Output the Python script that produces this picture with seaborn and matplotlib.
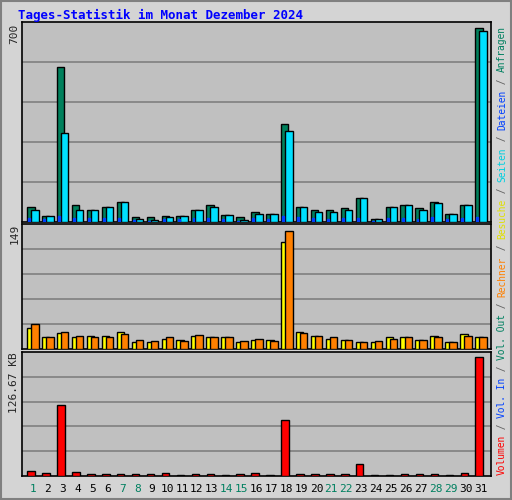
import numpy as np
import matplotlib
matplotlib.use("Agg")
import matplotlib.pyplot as plt
import seaborn as sns

days = list(range(1, 32))
weekend = [1, 7, 8, 14, 15, 21, 22, 28, 29]
anfragen = [52,23,551,62,41,52,70,16,19,23,23,41,59,26,19,37,30,347,52,41,41,48,84,12,52,62,48,70,30,62,689]
dateien = [41,23,318,44,41,52,70,12,8,19,23,41,55,26,8,30,30,325,52,37,34,41,84,12,52,62,41,66,30,62,678]
seiten = [15,12,22,15,14,14,15,6,5,10,10,14,15,9,5,13,12,20,16,14,12,13,15,5,14,15,12,16,10,14,18]
besuche = [26,14,20,15,16,16,21,9,8,12,11,16,15,14,8,11,11,130,21,16,12,11,9,9,15,15,11,16,9,18,14]
rechner = [30,15,21,16,15,14,18,11,10,15,10,17,14,15,10,12,10,144,20,16,14,11,9,10,12,15,11,15,8,16,15]
volumen = [5.5,3.4,73,4.4,2.4,2.4,2.4,2.4,2.4,3.4,1.4,2.4,2.4,1.4,2.4,3.4,1.4,58,2.4,2.4,2.4,2.4,12.7,1.4,1.4,2.4,2.4,2.4,1.4,3.4,122.5]

sns.set_style("white")
plt.rcParams['font.family'] = ['DejaVu Sans Mono']
BG = "#C0C0C0"
fig = plt.figure(figsize=(5.12, 5.0), dpi=100, facecolor="#D4D4D4")
fig.patches.append(plt.Rectangle((0.002, 0.002), 0.996, 0.996, transform=fig.transFigure,
                                 fill=False, edgecolor="#808080", lw=1.5))
d = np.array(days, dtype=float)

def mkax(rect, ymax):
    ax = fig.add_axes(rect)
    ax.set_facecolor(BG)
    ax.set_xlim(0.29, 31.69)
    ax.set_ylim(0, ymax)
    for k in range(1, 5):
        ax.axhline(ymax * k / 5, color="#808080", lw=1.2, zorder=0)
    ax.set_xticks([]); ax.set_yticks([])
    ax.set_xlabel(""); ax.set_ylabel("")
    for s in ax.spines.values():
        s.set_color("black"); s.set_linewidth(1.2)
    return ax

def bars(ax, x, y, color, width, ec="black"):
    sns.barplot(x=x, y=y, native_scale=True, width=width, color=color,
                edgecolor=ec, linewidth=1, saturation=1, ax=ax, zorder=3)

ax1 = mkax([0.043, 0.556, 0.916, 0.40], 711)
bars(ax1, d - 0.12, anfragen, "#00805C", 0.5)
bars(ax1, d + 0.15, dateien, "#00E0FF", 0.5)
bars(ax1, d - 0.23, seiten, "#0040FF", 0.13, ec="#0040FF")
ax2 = mkax([0.043, 0.302, 0.916, 0.25], 152)
bars(ax2, d - 0.12, besuche, "#FFFF00", 0.5)
bars(ax2, d + 0.15, rechner, "#FF8000", 0.5)
ax3 = mkax([0.043, 0.048, 0.916, 0.248], 128)
bars(ax3, d - 0.1, volumen, "#FF0000", 0.5)
for ax in (ax1, ax2, ax3):
    ax.set_xlim(0.29, 31.69); ax.set_xticks([]); ax.set_xlabel(""); ax.set_ylabel("")

fig.text(0.035, 0.97, "Tages-Statistik im Monat Dezember 2024", color="#0000FF",
         fontsize=9, fontweight="bold", ha="left", va="center", family="DejaVu Sans Mono")
fig.text(0.028, 0.953, "700", rotation=90, fontsize=8, ha="center", va="top")
fig.text(0.028, 0.552, "149", rotation=90, fontsize=8, ha="center", va="top")
fig.text(0.028, 0.296, "126.67 KB", rotation=90, fontsize=8, ha="center", va="top")

for i in days:
    xf = 0.043 + 0.916 * (i - 0.29) / 31.4
    fig.text(xf, 0.022, str(i), ha="center", va="center", fontsize=8,
             color="#008060" if i in weekend else "black")

pieces = [("Volumen", "#FF0000"), (" / ", "#606060"), ("Vol. In", "#0040FF"), (" / ", "#606060"),
          ("Vol. Out", "#008060"), (" / ", "#606060"), ("Rechner", "#FF8000"), (" / ", "#606060"),
          ("Besuche", "#E0E000"), (" / ", "#606060"), ("Seiten", "#00D0E0"), (" / ", "#606060"),
          ("Dateien", "#0040FF"), (" / ", "#606060"), ("Anfragen", "#008060")]
ypix = 475
cw = 5.75
for txt, col in pieces:
    fig.text(502 / 512, ypix / 500 * -1 + 1, txt, rotation=90, ha="center", va="bottom",
             fontsize=6.9, color=col, family="DejaVu Sans Mono")
    ypix -= cw * len(txt)

fig.savefig("out.png", dpi=100, facecolor=fig.get_facecolor())
